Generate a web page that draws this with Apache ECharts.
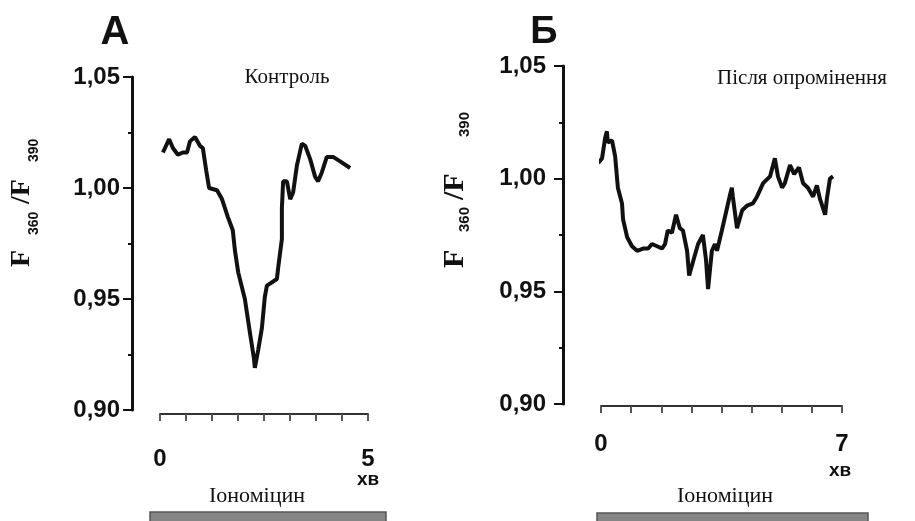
<!DOCTYPE html>
<html>
<head>
<meta charset="utf-8">
<script src="https://cdn.jsdelivr.net/npm/echarts@6/dist/echarts.min.js"></script>
<style>
  html, body { margin: 0; padding: 0; background: #fff; }
  #chart { width: 915px; height: 521px; }
</style>
</head>
<body>
<div id="chart"></div>
<script>
// Panel A (control): time, min / F360/F390 ratio
var controlTime = [0.07, 0.22, 0.31, 0.43, 0.55, 0.65, 0.72, 0.84, 0.96, 1.03, 1.11, 1.18, 1.37, 1.49, 1.63, 1.75, 1.80, 1.88, 2.04, 2.16, 2.26, 2.28, 2.36, 2.45, 2.52, 2.57, 2.81, 2.84, 2.93, 2.93, 2.96, 3.05, 3.13, 3.20, 3.29, 3.41, 3.49, 3.61, 3.73, 3.80, 3.89, 4.01, 4.16, 4.33, 4.57];
var controlRatio = [1.016, 1.022, 1.018, 1.015, 1.016, 1.016, 1.021, 1.023, 1.019, 1.018, 1.008, 1.000, 0.999, 0.995, 0.987, 0.981, 0.972, 0.962, 0.950, 0.935, 0.923, 0.919, 0.927, 0.937, 0.951, 0.956, 0.959, 0.964, 0.977, 0.991, 1.003, 1.003, 0.995, 0.998, 1.010, 1.020, 1.019, 1.013, 1.005, 1.003, 1.007, 1.014, 1.014, 1.012, 1.009];

// Panel B (after irradiation)
var irradTime = [-0.08, 0.03, 0.12, 0.17, 0.20, 0.32, 0.41, 0.49, 0.61, 0.64, 0.76, 0.90, 1.05, 1.22, 1.37, 1.48, 1.63, 1.77, 1.86, 1.94, 2.06, 2.18, 2.29, 2.38, 2.50, 2.56, 2.67, 2.82, 2.96, 3.05, 3.11, 3.22, 3.31, 3.37, 3.51, 3.66, 3.75, 3.80, 3.83, 3.95, 4.10, 4.24, 4.41, 4.53, 4.71, 4.91, 5.05, 5.14, 5.26, 5.34, 5.49, 5.61, 5.75, 5.87, 6.01, 6.16, 6.27, 6.36, 6.51, 6.56, 6.65, 6.74];
var irradRatio = [1.007, 1.009, 1.018, 1.021, 1.016, 1.017, 1.010, 0.996, 0.989, 0.982, 0.974, 0.970, 0.968, 0.969, 0.969, 0.971, 0.970, 0.969, 0.971, 0.977, 0.976, 0.984, 0.978, 0.977, 0.968, 0.957, 0.963, 0.971, 0.975, 0.964, 0.951, 0.968, 0.971, 0.968, 0.977, 0.987, 0.993, 0.996, 0.992, 0.978, 0.986, 0.988, 0.989, 0.992, 0.998, 1.001, 1.009, 1.001, 0.996, 0.998, 1.006, 1.002, 1.005, 0.998, 0.996, 0.992, 0.997, 0.991, 0.984, 0.991, 1.000, 1.001];

var panelTitles = ['А', 'Б'];
var panelCaptions = ['Контроль', 'Після опромінення'];
var drugLabel = 'Іономіцин';
var timeUnit = 'хв';
var yTicks = { min: 0.90, max: 1.05, step: 0.05 };
var xMax = [5, 7];

function pairs(xs, ys) {
  return xs.map(function (x, i) { return [x, ys[i]]; });
}

var ink = '#111';
var numFont = '"Liberation Sans", Arial, sans-serif';
var serifFont = '"Liberation Serif", "Times New Roman", serif';

function makeY(gridIndex, offset, margin) {
  return {
    type: 'value',
    gridIndex: gridIndex,
    min: yTicks.min,
    max: yTicks.max,
    interval: yTicks.step,
    offset: offset,
    axisLine: { show: true, onZero: false, lineStyle: { color: ink, width: 3 } },
    axisTick: { show: true, length: 9, lineStyle: { color: ink, width: 2 } },
    minorTick: { show: true, splitNumber: 2, length: 4, lineStyle: { color: ink, width: 2 } },
    splitLine: { show: false },
    axisLabel: {
      margin: margin,
      color: ink,
      fontFamily: numFont,
      fontWeight: 'bold',
      fontSize: 24,
      formatter: function (v) { return v.toFixed(2).replace('.', ','); }
    }
  };
}

function makeX(gridIndex, max, offset, margin) {
  return {
    type: 'value',
    gridIndex: gridIndex,
    min: 0,
    max: max,
    interval: max / 8,
    offset: offset,
    axisLine: { show: true, onZero: false, lineStyle: { color: '#333', width: 2 } },
    axisTick: { show: true, length: 7, lineStyle: { color: '#555', width: 2 } },
    splitLine: { show: false },
    axisLabel: {
      margin: margin,
      color: ink,
      fontFamily: numFont,
      fontWeight: 'bold',
      fontSize: 24,
      formatter: function (v) {
        return (v === 0 || v === max) ? String(v) : '';
      }
    }
  };
}

function yLabel(x, y, fSize, subSize, pos, subY) {
  var fStyle = 'bold ' + fSize + 'px ' + serifFont;
  var sStyle = 'bold ' + subSize + 'px ' + numFont;
  function t(text, lx, ly, font) {
    return { type: 'text', x: lx, y: ly, style: { text: text, font: font, fill: ink, textAlign: 'left', align: 'left', textVerticalAlign: 'middle', verticalAlign: 'middle' } };
  }
  return {
    type: 'group', x: x, y: y, rotation: Math.PI / 2,
    children: [
      t('F', pos[0], 0, fStyle),
      t('360', pos[1], subY, sStyle),
      t('/F', pos[2], 0, fStyle),
      t('390', pos[3], subY, sStyle)
    ]
  };
}

function label(text, x, y, font) {
  return { type: 'text', x: x, y: y, style: { text: text, font: font, fill: ink, textAlign: 'center', align: 'center', textVerticalAlign: 'middle', verticalAlign: 'middle' } };
}

var chart = echarts.init(document.getElementById('chart'), null, { renderer: 'canvas' });

chart.setOption({
  animation: false,
  backgroundColor: '#fff',

  grid: [
    { left: 160, right: 547, top: 77, bottom: 111 },
    { left: 601, right: 73, top: 66, bottom: 117 }
  ],

  xAxis: [makeX(0, xMax[0], 4, 33), makeX(1, xMax[1], 2, 26)],
  yAxis: [makeY(0, 28, 12), makeY(1, 38, 17)],

  series: [
    {
      type: 'line', xAxisIndex: 0, yAxisIndex: 0,
      data: pairs(controlTime, controlRatio),
      showSymbol: false, clip: false,
      lineStyle: { color: ink, width: 4 }
    },
    {
      type: 'line', xAxisIndex: 1, yAxisIndex: 1,
      data: pairs(irradTime, irradRatio),
      showSymbol: false, clip: false,
      lineStyle: { color: ink, width: 4 }
    }
  ],

  graphic: [
    label(panelTitles[0], 115, 33, 'bold 40px ' + numFont),
    label(panelTitles[1], 544, 33, 'bold 38px ' + numFont),
    label(panelCaptions[0], 287, 77, '21px ' + serifFont),
    label(panelCaptions[1], 802, 78, '21px ' + serifFont),
    label(timeUnit, 368, 480, 'bold 19px ' + numFont),
    label(timeUnit, 840, 471, 'bold 19px ' + numFont),
    label(drugLabel, 257, 496, '22px ' + serifFont),
    label(drugLabel, 725, 496, '22px ' + serifFont),
    { type: 'rect', shape: { x: 150, y: 512, width: 236, height: 12 }, style: { fill: '#858585', stroke: '#555', lineWidth: 1.5 } },
    { type: 'rect', shape: { x: 597, y: 513, width: 271, height: 12 }, style: { fill: '#858585', stroke: '#555', lineWidth: 1.5 } },
    yLabel(22, 267, 28, 14, [0, 32, 63, 105], 12),
    yLabel(455, 268, 30, 15, [0, 36, 68, 131], 10)
  ]
});
</script>
</body>
</html>
